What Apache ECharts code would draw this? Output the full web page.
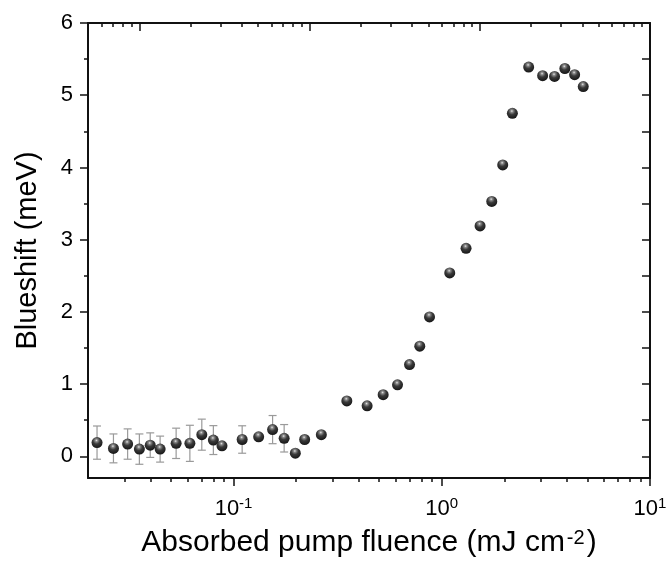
<!DOCTYPE html>
<html>
<head>
<meta charset="utf-8">
<script src="https://cdn.jsdelivr.net/npm/echarts@6/dist/echarts.min.js"></script>
<style>
  html, body { margin: 0; padding: 0; background: #fff; }
  #chart { width: 669px; height: 568px; }
</style>
</head>
<body>
<div id="chart"></div>
<script>
// absorbed pump fluence (mJ cm^-2) and blueshift (meV)
const fluence = [0.0221, 0.0265, 0.031, 0.0353, 0.0398, 0.0444, 0.053, 0.0617, 0.0704, 0.080,
  0.088, 0.110, 0.132, 0.154, 0.175, 0.198, 0.2195, 0.264, 0.350, 0.438,
  0.523, 0.613, 0.700, 0.784, 0.873, 1.092, 1.308, 1.527, 1.738, 1.962,
  2.183, 2.614, 3.05, 3.48, 3.90, 4.345, 4.78];
const blueshift = [0.19, 0.11, 0.17, 0.10, 0.155, 0.10, 0.18, 0.18, 0.30, 0.225,
  0.146, 0.233, 0.27, 0.37, 0.25, 0.044, 0.233, 0.30, 0.767, 0.70,
  0.854, 0.99, 1.27, 1.525, 1.93, 2.54, 2.88, 3.19, 3.53, 4.035,
  4.75, 5.39, 5.27, 5.26, 5.37, 5.285, 5.12];
// symmetric error (null = no bar drawn)
const errBar = [0.23, 0.20, 0.21, 0.21, 0.17, 0.18, 0.21, 0.25, 0.215, 0.20,
  null, 0.19, null, 0.195, 0.19];

// tick values
const xMajor = [0.1, 1, 10];
const xMinor = [0.03, 0.04, 0.05, 0.06, 0.07, 0.08, 0.09, 0.2, 0.3, 0.4, 0.5, 0.6, 0.7, 0.8, 0.9,
  2, 3, 4, 5, 6, 7, 8, 9];
const topMajor = [0.01, 0.1, 1, 10];
const topMinor = [0.006, 0.007, 0.008, 0.009, 0.02, 0.03, 0.04, 0.05, 0.06, 0.07, 0.08, 0.09,
  0.2, 0.3, 0.4, 0.5, 0.6, 0.7, 0.8, 0.9, 2, 3, 4, 5, 6, 7, 8, 9];
const yMajor = [0, 1, 2, 3, 4, 5, 6];
const yMinor = [0.5, 1.5, 2.5, 3.5, 4.5, 5.5];
const yRight = [0, 0.5, 1, 1.5, 2, 2.5, 3, 3.5, 4, 4.5, 5, 5.5, 6];

const chart = echarts.init(document.getElementById('chart'));
const font = '"Liberation Sans", Arial, sans-serif';
const lineColor = '#111';

const points = fluence.map((f, i) => [f, blueshift[i]]);
const errData = [];
fluence.forEach((f, i) => {
  if (errBar[i] != null) errData.push([f, blueshift[i], errBar[i]]);
});

function expLabel(v) {
  const n = Math.round(Math.log10(v));
  return '{b|10}{s|' + n + '}';
}

function xAxisOf(pos, min, ticks, len, inside, extra) {
  return Object.assign({
    type: 'log',
    logBase: 10,
    position: pos,
    min: min,
    max: 10,
    axisLine: { show: false, onZero: false },
    axisTick: { show: true, inside: inside, length: len, customValues: ticks,
      lineStyle: { color: lineColor, width: 1.5 } },
    axisLabel: { show: false },
    splitLine: { show: false },
    minorTick: { show: false },
  }, extra || {});
}

function yAxisOf(pos, ticks, len, inside, extra) {
  return Object.assign({
    type: 'value',
    position: pos,
    min: -0.3,
    max: 6,
    axisLine: { show: false, onZero: false },
    axisTick: { show: true, inside: inside, length: len, customValues: ticks,
      lineStyle: { color: lineColor, width: 1.5 } },
    axisLabel: { show: false },
    splitLine: { show: false },
  }, extra || {});
}

const shownLine = { show: true, onZero: false, lineStyle: { color: lineColor, width: 2 } };

const option = {
  backgroundColor: '#fff',
  animation: false,
  grid: { left: 88, right: 19, top: 23, bottom: 90, outerBoundsMode: 'none' },
  xAxis: [
    xAxisOf('bottom', 0.02, xMajor, 8, false, {
      axisLine: shownLine,
      axisLabel: {
        show: true,
        customValues: xMajor,
        margin: 18,
        formatter: expLabel,
        rich: {
          b: { fontFamily: font, fontSize: 22, color: '#000', lineHeight: 26, verticalAlign: 'middle' },
          s: { fontFamily: font, fontSize: 15, color: '#000', lineHeight: 12, verticalAlign: 'top' }
        }
      },
      name: 'Absorbed pump fluence (mJ cm{s|-2})',
      nameLocation: 'middle',
      nameGap: 50,
      nameTextStyle: {
        fontFamily: font, fontSize: 30, color: '#000',
        rich: {
          s: { fontFamily: font, fontSize: 20, color: '#000', lineHeight: 16, verticalAlign: 'top', padding: [0, 2, 0, 2] }
        }
      }
    }),
    xAxisOf('bottom', 0.02, xMinor, 4, false),
    xAxisOf('top', 0.005, topMajor, 8, true, { axisLine: shownLine }),
    xAxisOf('top', 0.005, topMinor, 4, true)
  ],
  yAxis: [
    yAxisOf('left', yMajor, 8, false, {
      axisLine: shownLine,
      axisLabel: {
        show: true,
        customValues: yMajor,
        margin: 15,
        fontFamily: font,
        fontSize: 22,
        color: '#000'
      },
      name: 'Blueshift (meV)',
      nameLocation: 'middle',
      nameGap: 46,
      nameTextStyle: { fontFamily: font, fontSize: 29, color: '#000' }
    }),
    yAxisOf('left', yMinor, 4, false),
    yAxisOf('right', yRight, 8, true, { axisLine: shownLine })
  ],
  series: [
    {
      type: 'custom',
      xAxisIndex: 0,
      yAxisIndex: 0,
      data: errData,
      z: 1,
      renderItem: function (params, api) {
        const x = api.value(0), y = api.value(1), e = api.value(2);
        const hi = api.coord([x, y + e]);
        const lo = api.coord([x, y - e]);
        const hw = 4;
        const style = { stroke: '#9a9a9a', lineWidth: 1.2 };
        return {
          type: 'group',
          children: [
            { type: 'line', shape: { x1: hi[0], y1: hi[1], x2: lo[0], y2: lo[1] }, style: style },
            { type: 'line', shape: { x1: hi[0] - hw, y1: hi[1], x2: hi[0] + hw, y2: hi[1] }, style: style },
            { type: 'line', shape: { x1: lo[0] - hw, y1: lo[1], x2: lo[0] + hw, y2: lo[1] }, style: style }
          ]
        };
      }
    },
    {
      type: 'scatter',
      xAxisIndex: 0,
      yAxisIndex: 0,
      data: points,
      symbol: 'circle',
      symbolSize: 11,
      z: 3,
      itemStyle: {
        color: {
          type: 'radial', x: 0.45, y: 0.3, r: 0.65,
          colorStops: [
            { offset: 0, color: '#e6e6e6' },
            { offset: 0.18, color: '#8a8a8a' },
            { offset: 0.5, color: '#3a3a3a' },
            { offset: 1, color: '#1a1a1a' }
          ]
        },
        opacity: 1
      }
    }
  ]
};
chart.setOption(option);
</script>
</body>
</html>
